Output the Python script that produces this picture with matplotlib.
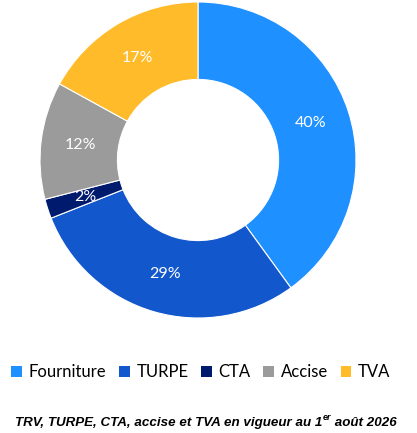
import matplotlib
matplotlib.use("Agg")
import matplotlib.pyplot as plt
from matplotlib.patches import Patch

labels = ["Fourniture", "TURPE", "CTA", "Accise", "TVA"]
shares = [40, 29, 2, 12, 17]
colors = ["#1E90FF", "#1257CC", "#001A6E", "#9B9B9B", "#FFBB2A"]

W, H = 417, 433
fig = plt.figure(figsize=(W / 100, H / 100), dpi=100)

# donut axes: centre at (198,160) px, outer radius 158 px
cx, cy, r = 198, 160, 158
ax = fig.add_axes([(cx - r) / W, (H - cy - r) / H, 2 * r / W, 2 * r / H])
wedges, texts, autotexts = ax.pie(
    shares, colors=colors, startangle=90, counterclock=False, radius=1,
    autopct=lambda p: f"{p:.0f}%", pctdistance=0.75,
    wedgeprops=dict(width=0.49, edgecolor="white", linewidth=0.8),
    textprops=dict(color="white", fontsize=11.5, family=["Lato", "DejaVu Sans"]),
)
ax.set_xlim(-1, 1)
ax.set_ylim(-1, 1)
ax.set_aspect("equal")
ax.axis("off")

handles = [Patch(facecolor=c, edgecolor="none") for c in colors]
fig.legend(handles, labels, loc="center", bbox_to_anchor=(201 / W, 1 - 372 / H),
           ncol=5, frameon=False, handlelength=0.65, handleheight=0.65,
           handletextpad=0.4, columnspacing=0.75,
           prop=dict(family="Lato", size=12))

# footnote with superscript "er"
fkw = dict(family="Liberation Sans", weight="bold", style="italic")
y0 = 1 - 423 / H
parts = [("TRV, TURPE, CTA, accise et TVA en vigueur au 1", 9.6, 0),
         ("er", 6.5, 0.013),
         (" août 2026", 9.6, 0)]
renderer = fig.canvas.get_renderer()
objs = []
total = 0
for s, fs, dy in parts:
    t = fig.text(0, y0 + dy, s, fontsize=fs, va="center", ha="left", **fkw)
    w = t.get_window_extent(renderer).width
    objs.append((t, w))
    total += w
x = 206 - total / 2
for t, w in objs:
    t.set_x(x / W)
    x += w

fig.savefig("out.png", dpi=100)
